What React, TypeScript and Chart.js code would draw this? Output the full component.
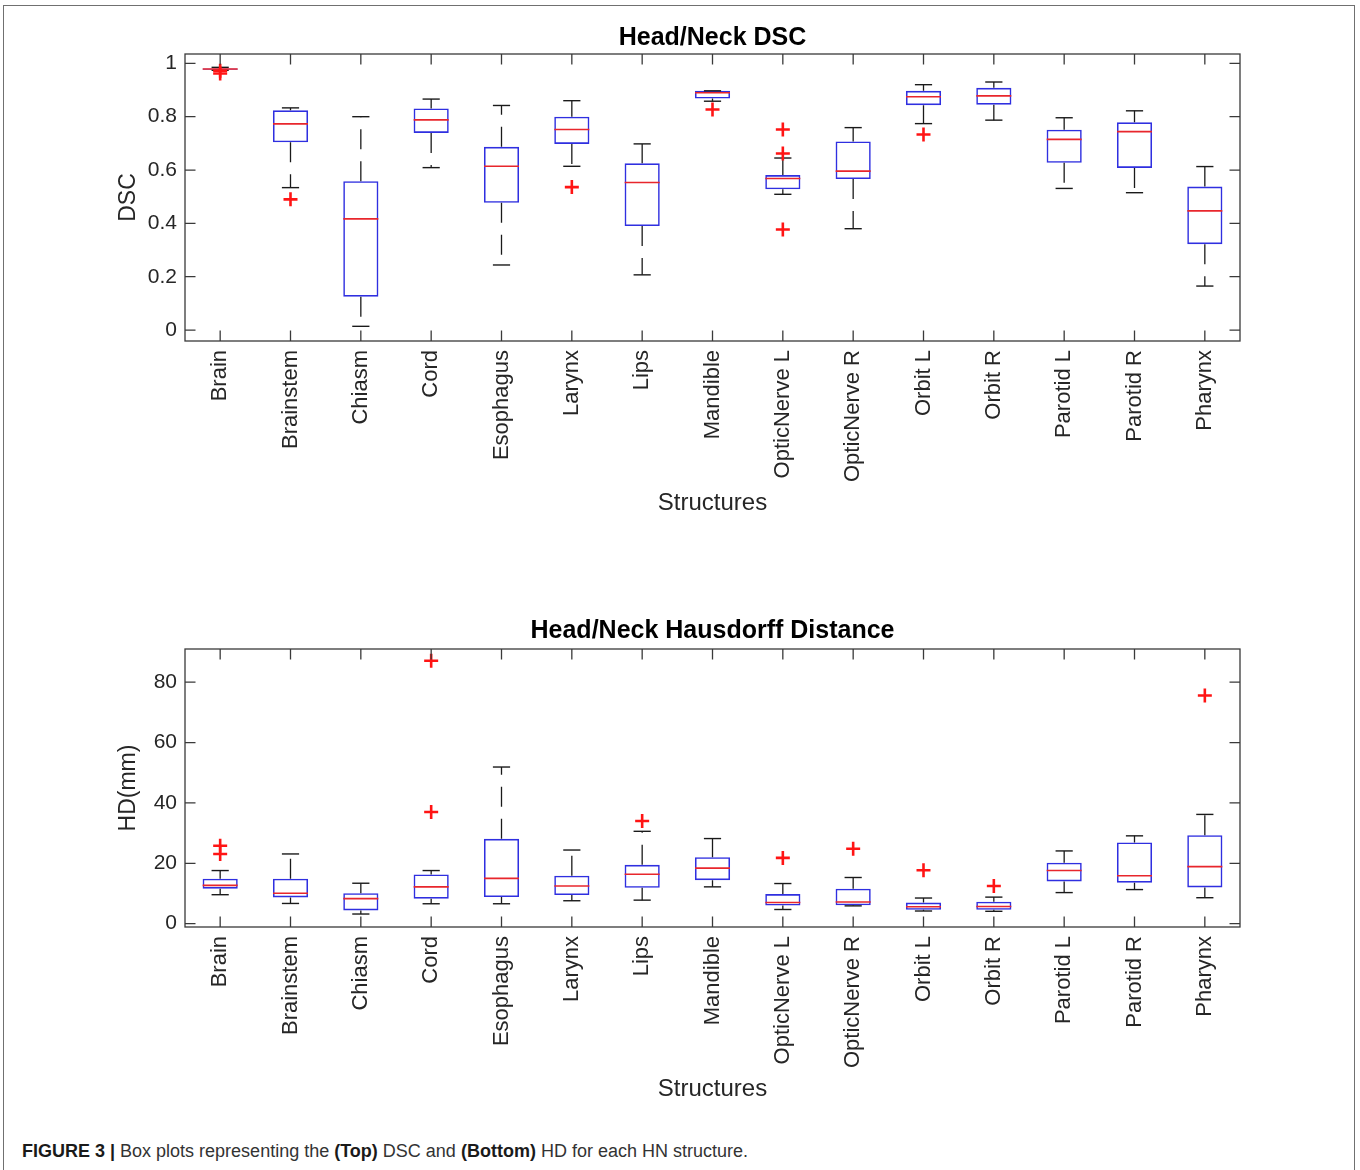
import React, { useEffect, useRef } from 'react';
import { Chart, registerables } from 'chart.js';

Chart.register(...registerables);

// ---------------- data ----------------
const categories = [
  'Brain', 'Brainstem', 'Chiasm', 'Cord', 'Esophagus', 'Larynx', 'Lips', 'Mandible',
  'OpticNerve L', 'OpticNerve R', 'Orbit L', 'Orbit R', 'Parotid L', 'Parotid R', 'Pharynx',
];

// DSC (top panel)
const dscLower = [0.974, 0.534, 0.014, 0.609, 0.244, 0.614, 0.207, 0.858, 0.509, 0.38, 0.774, 0.787, 0.531, 0.515, 0.165];
const dscQ1 = [0.976, 0.704, 0.125, 0.739, 0.477, 0.698, 0.39, 0.868, 0.528, 0.566, 0.843, 0.845, 0.627, 0.608, 0.322];
const dscMedian = [0.979, 0.773, 0.417, 0.788, 0.614, 0.752, 0.553, 0.89, 0.568, 0.596, 0.875, 0.878, 0.715, 0.744, 0.447];
const dscQ3 = [0.981, 0.824, 0.558, 0.831, 0.687, 0.8, 0.625, 0.897, 0.581, 0.707, 0.897, 0.908, 0.751, 0.779, 0.538];
const dscUpper = [0.985, 0.833, 0.8, 0.866, 0.842, 0.86, 0.698, 0.897, 0.645, 0.759, 0.92, 0.93, 0.796, 0.822, 0.613];
const dscOutlierCats = ['Brain', 'Brain', 'Brainstem', 'Larynx', 'Mandible', 'OpticNerve L', 'OpticNerve L', 'OpticNerve L', 'Orbit L'];
const dscOutlierValues = [0.972, 0.962, 0.49, 0.536, 0.827, 0.752, 0.662, 0.377, 0.733];
const dscTicks = [0, 0.2, 0.4, 0.6, 0.8, 1];

// Hausdorff distance (bottom panel)
const hdLower = [9.6, 6.7, 3.2, 6.6, 6.6, 7.6, 7.8, 12.2, 4.7, 5.9, 4.2, 4.1, 10.3, 11.3, 8.6];
const hdQ1 = [11.6, 8.7, 4.4, 8.3, 8.8, 9.5, 11.9, 14.4, 6.0, 6.1, 4.6, 4.6, 14.0, 13.6, 12.0];
const hdMedian = [12.7, 10.1, 8.3, 12.2, 15.0, 12.5, 16.4, 18.4, 7.0, 7.2, 5.6, 5.7, 17.6, 15.9, 18.9];
const hdQ3 = [14.9, 14.9, 10.1, 16.3, 28.1, 15.9, 19.5, 22.0, 9.8, 11.6, 7.0, 7.3, 20.2, 26.9, 29.3];
const hdUpper = [17.6, 23.1, 13.4, 17.6, 51.9, 24.4, 30.6, 28.2, 13.3, 15.3, 8.5, 8.8, 24.1, 29.1, 36.2];
const hdOutlierCats = ['Brain', 'Brain', 'Cord', 'Cord', 'Lips', 'OpticNerve L', 'OpticNerve R', 'Orbit L', 'Orbit R', 'Pharynx'];
const hdOutlierValues = [25.8, 23.1, 87.1, 37.0, 34.0, 21.8, 24.8, 17.7, 12.5, 75.6];
const hdTicks = [0, 20, 40, 60, 80];

// ---------------- styling ----------------
const FONT = '"Liberation Sans", Arial, Helvetica, sans-serif';
const TEXT = '#262626';
const BOX_BLUE = '#2f2fe0';
const MED_RED = '#e8262c';
const OUT_RED = '#ff1414';

const framePlugin = {
  id: 'matlabFrame',
  afterDatasetsDraw(chart: any) {
    const { ctx, chartArea: a, scales } = chart;
    const L = 10.5;
    ctx.save();
    ctx.strokeStyle = '#3a3a3a';
    ctx.lineWidth = 1.3;
    ctx.beginPath();
    scales.x.ticks.forEach((_: any, i: number) => {
      const px = scales.x.getPixelForTick(i);
      ctx.moveTo(px, a.bottom);
      ctx.lineTo(px, a.bottom - L);
      ctx.moveTo(px, a.top);
      ctx.lineTo(px, a.top + L);
    });
    scales.y.ticks.forEach((_: any, i: number) => {
      const py = scales.y.getPixelForTick(i);
      ctx.moveTo(a.left, py);
      ctx.lineTo(a.left + L, py);
      ctx.moveTo(a.right, py);
      ctx.lineTo(a.right - L, py);
    });
    ctx.stroke();
    ctx.strokeRect(a.left, a.top, a.right - a.left, a.bottom - a.top);
    ctx.restore();
  },
};

type PanelCfg = {
  title: string;
  yTitle: string;
  lower: number[];
  q1: number[];
  median: number[];
  q3: number[];
  upper: number[];
  outCats: string[];
  outVals: number[];
  ticks: number[];
  yMin: number;
  yMax: number;
  titleCenter: number;
  areaTop: number;
  xScaleHeight: number;
  padBottom: number;
};

function buildConfig(p: PanelCfg): any {
  const whiskers: any[] = [];
  const caps: any[] = [];
  categories.forEach((c, i) => {
    whiskers.push({ x: c, y: p.q3[i] }, { x: c, y: p.upper[i] }, { x: c, y: null });
    whiskers.push({ x: c, y: p.q1[i] }, { x: c, y: p.lower[i] }, { x: c, y: null });
    caps.push({ x: c, y: p.upper[i] }, { x: c, y: p.lower[i] });
  });
  const medians = categories.map((c, i) => ({ x: c, y: p.median[i] }));
  const outliers = p.outCats.map((c, i) => ({ x: c, y: p.outVals[i] }));
  const boxes = categories.map((_, i) => [p.q1[i], p.q3[i]]);

  return {
    type: 'bar',
    data: {
      labels: categories,
      datasets: [
        {
          type: 'line',
          data: outliers,
          showLine: false,
          pointStyle: 'cross',
          pointRadius: 7,
          pointBorderWidth: 2.6,
          pointBorderColor: OUT_RED,
          pointBackgroundColor: OUT_RED,
          order: 0,
        },
        {
          type: 'line',
          data: medians,
          showLine: false,
          pointStyle: 'line',
          pointRadius: 17.5,
          pointBorderWidth: 1.6,
          pointBorderColor: MED_RED,
          order: 1,
        },
        {
          type: 'line',
          data: caps,
          showLine: false,
          pointStyle: 'line',
          pointRadius: 8.6,
          pointBorderWidth: 1.4,
          pointBorderColor: '#1a1a1a',
          order: 2,
        },
        {
          type: 'line',
          data: whiskers,
          spanGaps: false,
          borderColor: '#1a1a1a',
          borderWidth: 1.3,
          borderDash: [20, 12],
          pointRadius: 0,
          fill: false,
          order: 3,
        },
        {
          type: 'bar',
          data: boxes,
          backgroundColor: 'rgba(0,0,0,0)',
          borderColor: BOX_BLUE,
          borderWidth: 1.6,
          borderSkipped: false,
          barPercentage: 0.5,
          categoryPercentage: 1,
          order: 4,
        },
      ],
    },
    options: {
      responsive: false,
      animation: false,
      events: [],
      layout: {
        padding: { top: p.titleCenter - 15, left: 114.8, right: 120, bottom: p.padBottom },
      },
      plugins: {
        legend: { display: false },
        tooltip: { enabled: false },
        title: {
          display: true,
          text: p.title,
          fullSize: false,
          color: '#000',
          font: { family: FONT, size: 25, weight: 'bold', lineHeight: 1.2 },
          padding: { top: 0, bottom: p.areaTop - p.titleCenter - 15 },
        },
      },
      scales: {
        x: {
          type: 'category',
          offset: true,
          grid: { display: false, drawTicks: false, tickLength: 0 },
          border: { display: false },
          ticks: {
            minRotation: 90,
            maxRotation: 90,
            autoSkip: false,
            padding: 9,
            color: TEXT,
            font: { family: FONT, size: 22 },
          },
          title: {
            display: true,
            text: 'Structures',
            color: TEXT,
            padding: 0,
            font: { family: FONT, size: 24, lineHeight: 1.2 },
          },
          afterFit: (s: any) => {
            s.height = p.xScaleHeight;
          },
        },
        y: {
          type: 'linear',
          min: p.yMin,
          max: p.yMax,
          grid: { display: false, drawTicks: false, tickLength: 0 },
          border: { display: false },
          afterBuildTicks: (s: any) => {
            s.ticks = p.ticks.map((v) => ({ value: v }));
          },
          ticks: {
            padding: 8,
            color: TEXT,
            font: { family: FONT, size: 21 },
            callback: (v: any) => String(Number(Number(v).toFixed(2))),
          },
          title: {
            display: true,
            text: p.yTitle,
            color: TEXT,
            padding: 0,
            font: { family: FONT, size: 23, lineHeight: 1.2 },
          },
          afterFit: (s: any) => {
            s.width = 70.2;
          },
        },
      },
    },
    plugins: [framePlugin],
  };
}

function Panel({ cfg, top, height }: { cfg: PanelCfg; top: number; height: number }) {
  const ref = useRef<HTMLCanvasElement | null>(null);
  useEffect(() => {
    if (!ref.current) return;
    const chart = new Chart(ref.current, buildConfig(cfg));
    return () => chart.destroy();
  }, []);
  return (
    <canvas
      ref={ref}
      width={1360}
      height={height}
      style={{ position: 'absolute', left: 0, top, width: 1360, height }}
    />
  );
}

const topPanel: PanelCfg = {
  title: 'Head/Neck DSC',
  yTitle: 'DSC',
  lower: dscLower,
  q1: dscQ1,
  median: dscMedian,
  q3: dscQ3,
  upper: dscUpper,
  outCats: dscOutlierCats,
  outVals: dscOutlierValues,
  ticks: dscTicks,
  yMin: -0.041,
  yMax: 1.035,
  titleCenter: 38,
  areaTop: 54,
  xScaleHeight: 176.4,
  padBottom: 22.6,
};

const bottomPanel: PanelCfg = {
  title: 'Head/Neck Hausdorff Distance',
  yTitle: 'HD(mm)',
  lower: hdLower,
  q1: hdQ1,
  median: hdMedian,
  q3: hdQ3,
  upper: hdUpper,
  outCats: hdOutlierCats,
  outVals: hdOutlierValues,
  ticks: hdTicks,
  yMin: -1.1,
  yMax: 91,
  titleCenter: 71,
  areaTop: 89,
  xScaleHeight: 176.4,
  padBottom: 16.6,
};

export default function App() {
  return (
    <div style={{ position: 'absolute', left: 0, top: 0, width: 1360, height: 1170, background: '#fff', overflow: 'hidden' }}>
      <div
        style={{
          position: 'absolute',
          left: 3,
          top: 5,
          width: 1352,
          height: 1200,
          boxSizing: 'border-box',
          borderLeft: '1.5px solid #707070',
          borderTop: '1.5px solid #707070',
          borderRight: '1.5px solid #707070',
        }}
      />
      <Panel cfg={topPanel} top={0} height={540} />
      <Panel cfg={bottomPanel} top={560} height={560} />
      <div
        style={{
          position: 'absolute',
          left: 22,
          top: 1141,
          fontFamily: FONT,
          fontSize: 18,
          lineHeight: '20px',
          color: '#333',
          whiteSpace: 'nowrap',
        }}
      >
        <b style={{ color: '#1a1a1a' }}>FIGURE 3 |</b> Box plots representing the <b style={{ color: '#1a1a1a' }}>(Top)</b> DSC and{' '}
        <b style={{ color: '#1a1a1a' }}>(Bottom)</b> HD for each HN structure.
      </div>
    </div>
  );
}
